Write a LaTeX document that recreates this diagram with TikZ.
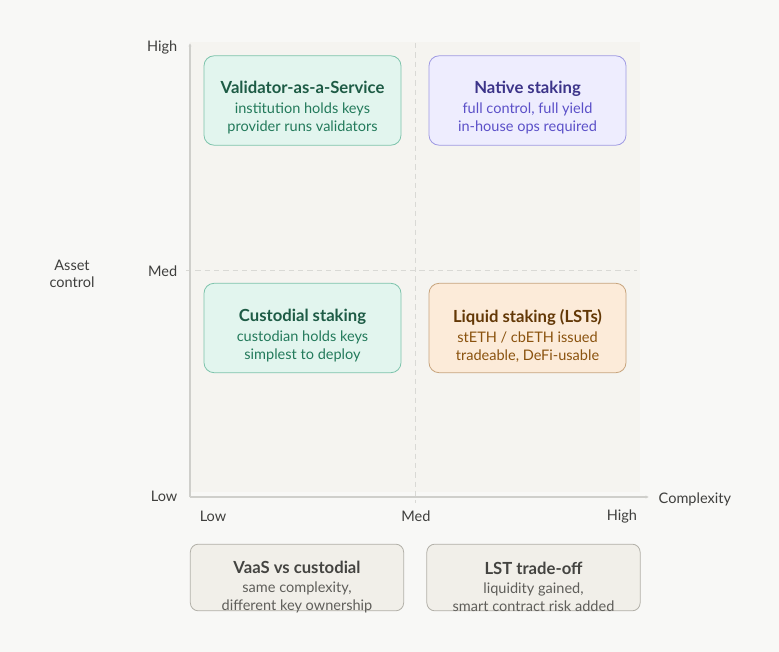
\documentclass[tikz,border=0pt]{standalone}
\usepackage{fontspec}
\setmainfont{Lato}
\usetikzlibrary{arrows.meta}
\definecolor{bgpaper}{HTML}{F8F8F6}
\definecolor{plotfill}{HTML}{F5F4F0}
\definecolor{axisgray}{HTML}{CFCFCB}
\definecolor{labgray}{HTML}{3F3F3D}
\definecolor{tealfill}{HTML}{E2F5EE}
\definecolor{tealline}{HTML}{7CC3AB}
\definecolor{tealdark}{HTML}{1D5B45}
\definecolor{tealtext}{HTML}{237A5B}
\definecolor{violfill}{HTML}{EEEDFE}
\definecolor{violline}{HTML}{9E99E2}
\definecolor{violdark}{HTML}{3C3489}
\definecolor{violtext}{HTML}{5B50C8}
\definecolor{ambfill}{HTML}{FCEBD9}
\definecolor{ambline}{HTML}{C7A47C}
\definecolor{ambdark}{HTML}{633806}
\definecolor{ambtext}{HTML}{8A520E}
\definecolor{notefill}{HTML}{F1EFE9}
\definecolor{noteline}{HTML}{B2B0A8}
\definecolor{notedark}{HTML}{444441}
\definecolor{notetext}{HTML}{5F5E5A}
\newcommand{\boxtitle}{\fontsize{12.5}{15}\selectfont\bfseries}

\begin{document}
\begin{tikzpicture}[x=0.75pt, y=-0.75pt,
        quad/.style={draw, rounded corners=7.5pt, minimum width=147.75pt, minimum height=67pt, line width=0.6pt},
        note/.style={draw=noteline, fill=notefill, rounded corners=6pt, minimum width=160pt, minimum height=50pt, line width=0.6pt},
        quadtext/.style={align=center, font=\fontsize{10.9}{13.5}\selectfont},
        axis/.style={draw=axisgray, line width=0.8pt},
        guide/.style={draw=axisgray!80, line width=0.6pt, dash pattern=on 4pt off 3pt},
        ticklab/.style={font=\fontsize{10.9}{13}\selectfont, text=labgray}
      ]
      \useasboundingbox[fill=bgpaper] (0,0) rectangle (779,652);
      \fill[plotfill] (190,42) rectangle (640,492);

      % axes and guides
      \coordinate (orig) at (190,497);
      \coordinate (ytop) at (190,43);
      \coordinate (xend) at (649,497);
      \draw[guide] (415,43) -- (415,503);
      \draw[guide] (186,270) -- (637,270);
      \draw[axis, -{Latex[length=2.5pt,width=2.5pt]}] (orig) -- (ytop);
      \draw[axis, -{Latex[length=2.5pt,width=2.5pt]}] (orig) -- (xend);

      \node[ticklab, anchor=east] (yhigh) at (182,47) {High};
      \node[ticklab, anchor=east] (ymed) at (182,271) {Med};
      \node[ticklab, anchor=east] (ylow) at (182,496) {Low};
      \node[ticklab, align=center] (ylab) at (72,274) {Asset\\control};
      \node[ticklab] (xlow) at (213,516) {Low};
      \node[ticklab] (xmed) at (416,516) {Med};
      \node[ticklab] (xhigh) at (622,516) {High};
      \node[ticklab, anchor=west] (xlab) at (654,499) {Complexity};

      % quadrant boxes
      \node[quad, draw=tealline, fill=tealfill] (vaas) at (302.5,100.5) {};
      \node[quadtext, text=tealtext] (vaast) at (302.5,108) {{\color{tealdark}\boxtitle Validator-as-a-Service}\\[1.5pt]institution holds keys\\provider runs validators};

      \node[quad, draw=violline, fill=violfill] (native) at (527.5,100.5) {};
      \node[quadtext, text=violtext] (nativet) at (527.5,108) {{\color{violdark}\boxtitle Native staking}\\[1.5pt]full control, full yield\\in-house ops required};

      \node[quad, draw=tealline, fill=tealfill] (cust) at (302.5,328) {};
      \node[quadtext, text=tealtext] (custt) at (302.5,335.5) {{\color{tealdark}\boxtitle Custodial staking}\\[1.5pt]custodian holds keys\\simplest to deploy};

      \node[quad, draw=ambline, fill=ambfill] (lst) at (527.5,328) {};
      \node[quadtext, text=ambtext] (lstt) at (527.5,335.5) {{\color{ambdark}\boxtitle Liquid staking (LSTs)}\\[1.5pt]stETH / cbETH issued\\tradeable, DeFi-usable};

      % notes below the chart
      \node[note] (vsnote) at (297,577.5) {};
      \node[quadtext, text=notetext] (vsnotet) at (297,587) {{\color{notedark}\boxtitle VaaS vs custodial}\\[1pt]same complexity,\\different key ownership};

      \node[note] (lstnote) at (533.5,577.5) {};
      \node[quadtext, text=notetext] (lstnotet) at (533.5,587) {{\color{notedark}\boxtitle LST trade-off}\\[1pt]liquidity gained,\\smart contract risk added};
    \end{tikzpicture}
\end{document}
